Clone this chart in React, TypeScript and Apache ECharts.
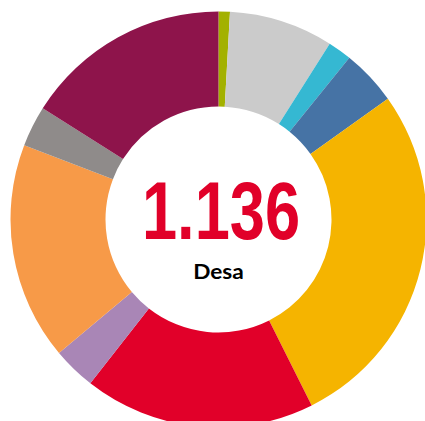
import React, { useEffect, useRef } from "react";
import * as echarts from "echarts";

const categories = ["A", "B", "C", "D", "E", "F", "G", "H", "I", "J"];
const values = [10, 92, 21, 49, 312, 204, 38, 192, 36, 182];
const colors = ["#a3b100", "#cbcbcb", "#35b8d2", "#4673a5", "#f5b400", "#e10029", "#a986b6", "#f79a48", "#8f8b8a", "#8e144b"];
const totalLabel = "1.136";
const unitLabel = "Desa";

export default function App() {
  const ref = useRef<HTMLDivElement>(null);
  useEffect(() => {
    if (!ref.current) return;
    const chart = echarts.init(ref.current, undefined, { renderer: "svg" });
    chart.setOption({
      animation: false,
      graphic: [
        {
          type: "text",
          x: 221,
          y: 211,
          scaleX: 0.78,
          style: {
            text: totalLabel,
            fill: "#e10029",
            font: "bold 81px 'Liberation Sans'",
            textAlign: "center",
            textVerticalAlign: "middle",
          },
        },
        {
          type: "text",
          x: 218.5,
          y: 271,
          scaleX: 1.08,
          style: {
            text: unitLabel,
            fill: "#000",
            font: "bold 21px Lato",
            textAlign: "center",
            textVerticalAlign: "middle",
          },
        },
      ],
      series: [
        {
          type: "pie",
          center: [218.5, 219.5],
          radius: [113, 208],
          startAngle: 90,
          clockwise: true,
          label: { show: false },
          labelLine: { show: false },
          emphasis: { disabled: true },
          itemStyle: { borderWidth: 0 },
          data: categories.map((c, i) => ({
            name: c,
            value: values[i],
            itemStyle: { color: colors[i] },
          })),
        },
      ],
    });
    return () => chart.dispose();
  }, []);
  return (
    <div
      ref={ref}
      style={{ position: "absolute", left: 0, top: 0, width: 425, height: 421 }}
    />
  );
}
